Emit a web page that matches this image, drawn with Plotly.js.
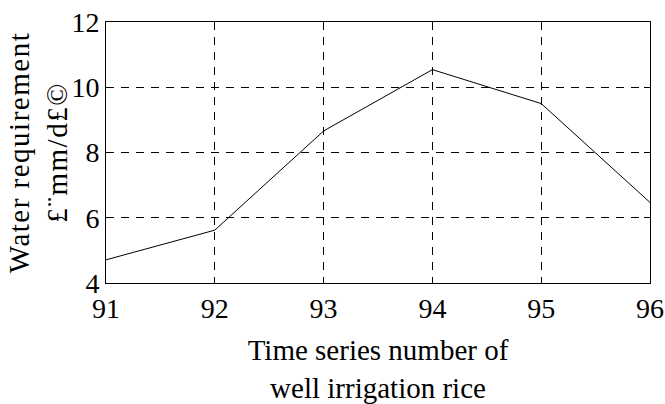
<!DOCTYPE html>
<html>
<head>
<meta charset="utf-8">
<script src="https://cdn.plot.ly/plotly-3.0.1.min.js"></script>
<style>
html,body{margin:0;padding:0;background:#fff;}
#chart{width:665px;height:404px;}
.g-ytitle text{letter-spacing:1.5px;}
</style>
</head>
<body>
<div id="chart"></div>
<script>
const seriesNumber = [91, 92, 93, 94, 95, 96];
const waterRequirement = [4.71, 5.62, 8.66, 10.54, 9.50, 6.47];
const xTickValues = [91, 92, 93, 94, 95, 96];
const yTickValues = [4, 6, 8, 10, 12];
const xTitle = "Time series number of<br>well irrigation rice";
const yTitle = "Water requirement<br>£¨mm/d£©";

const family = "Liberation Serif, serif";
const tickFont = {family: family, size: 28, color: "#000"};
const titleFont = {family: family, size: 29, color: "#000"};

const axisCommon = {
  showline: true, linecolor: "#000", linewidth: 1, mirror: "ticks",
  ticks: "inside", ticklen: 6, tickwidth: 1, tickcolor: "#000",
  showgrid: true, gridcolor: "#000", gridwidth: 1, griddash: "8px,7px",
  zeroline: false, tickfont: tickFont, automargin: false
};

Plotly.newPlot("chart", [{
  x: seriesNumber, y: waterRequirement, type: "scatter", mode: "lines",
  line: {color: "#000", width: 1}, hoverinfo: "skip"
}], {
  width: 665, height: 404,
  margin: {l: 106, r: 15, t: 22, b: 121},
  paper_bgcolor: "#fff", plot_bgcolor: "#fff",
  font: tickFont, showlegend: false,
  xaxis: Object.assign({}, axisCommon, {
    range: [91, 96], tickvals: xTickValues,
    title: {text: xTitle, font: titleFont}
  }),
  yaxis: Object.assign({}, axisCommon, {
    range: [4, 12], tickvals: yTickValues,
    title: {text: yTitle, font: titleFont}
  })
}, {staticPlot: true}).then(function () {
  const yt = document.querySelector('.g-ytitle text');
  if (yt) yt.setAttribute('transform', 'translate(3,0) ' + (yt.getAttribute('transform') || ''));
});
</script>
</body>
</html>
